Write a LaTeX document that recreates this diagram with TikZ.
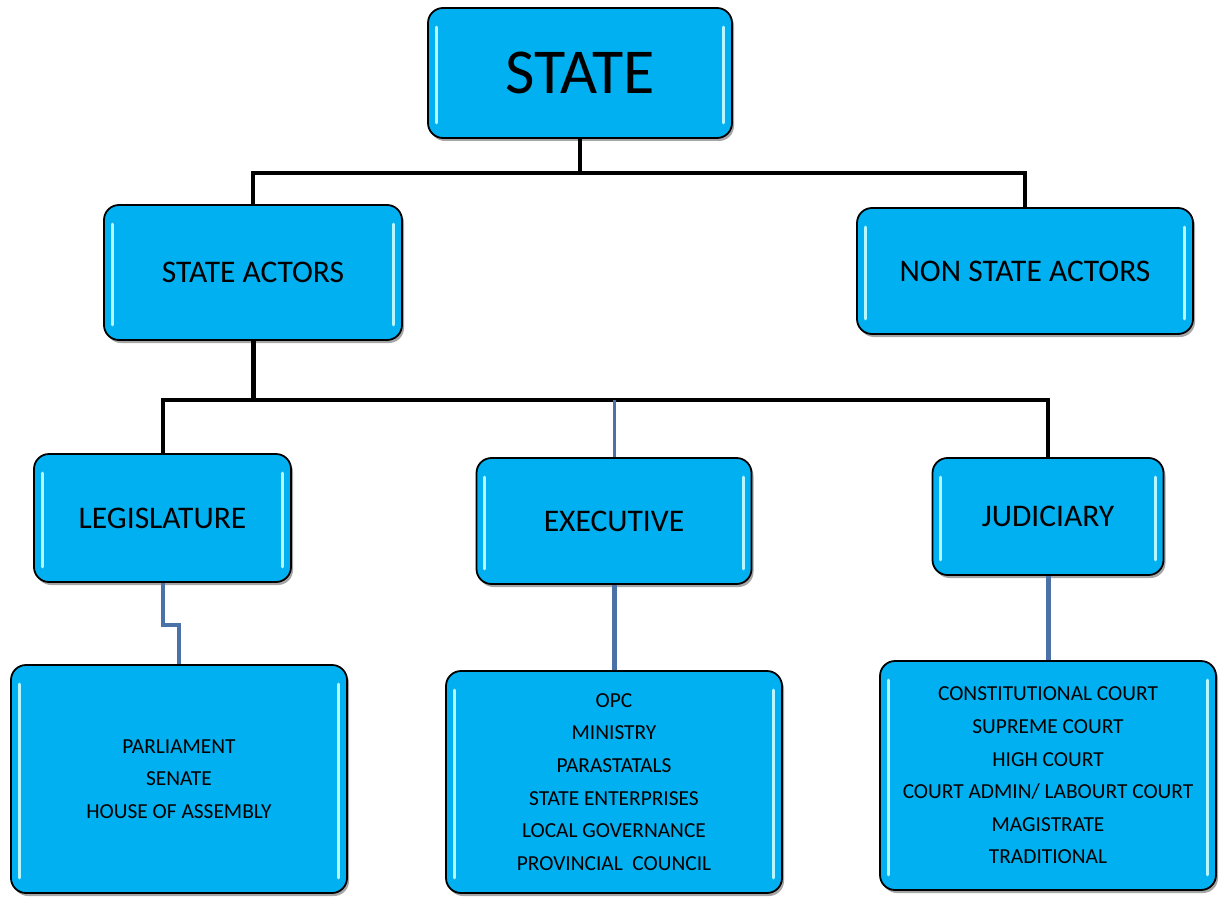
\documentclass[tikz,border=0pt]{standalone}
\usepackage{fontspec}
\setmainfont{Carlito}
\usetikzlibrary{shadows}
\definecolor{boxfill}{HTML}{00B0F0}
\definecolor{boxglint}{HTML}{B8F6FF}
\definecolor{linkblue}{HTML}{4A72A8}
\tikzset{
  box/.style={draw=black, line width=1.8pt, rounded corners=15pt, fill=boxfill,
    align=center, inner sep=0pt,
    drop shadow={shadow xshift=2pt, shadow yshift=-3pt, opacity=0.35, fill=black}},
  head/.style={box, font=\fontsize{31.5}{36}\selectfont},
  list/.style={box, font=\fontsize{21.4}{32.6}\selectfont},
  glint/.style={draw=boxglint, line width=3pt, line cap=round},
  blk/.style={draw=black, line width=4pt},
  blu/.style={draw=linkblue, line width=4pt},
}
\newcommand{\glints}[1]{%
  \draw[glint] ([xshift=9pt,yshift=-20pt]#1.north west) -- ([xshift=9pt,yshift=16pt]#1.south west);
  \draw[glint] ([xshift=-9pt,yshift=-20pt]#1.north east) -- ([xshift=-9pt,yshift=16pt]#1.south east);
}
\begin{document}
\begin{tikzpicture}[x=1pt, y=-1pt]
\useasboundingbox (0,0) rectangle (1222,896);

% top level
\node[box, minimum width=304pt, minimum height=130pt, font=\fontsize{64}{72}\selectfont] (state) at (580,73) {STATE};

% second level
\node[head, minimum width=298pt, minimum height=135pt] (sa) at (253,272.5) {STATE ACTORS};
\node[head, minimum width=336pt, minimum height=126pt] (nsa) at (1025,271) {NON STATE ACTORS};

% branches of government
\node[head, minimum width=257pt, minimum height=128pt] (leg) at (162.5,518) {LEGISLATURE};
\node[head, minimum width=275pt, minimum height=126pt] (exe) at (614,521) {EXECUTIVE};
\node[head, minimum width=231pt, minimum height=117pt] (jud) at (1048,516.5) {JUDICIARY};

% member lists
\node[list, minimum width=336pt, minimum height=228pt] (leglist) at (179,779)
  {PARLIAMENT\\SENATE\\HOUSE OF ASSEMBLY};
\node[list, minimum width=336pt, minimum height=222pt] (exelist) at (614,782)
  {OPC\\MINISTRY\\PARASTATALS\\STATE ENTERPRISES\\LOCAL GOVERNANCE\\PROVINCIAL\ \ COUNCIL};
\node[list, minimum width=336pt, minimum height=229pt] (judlist) at (1048,775.5)
  {CONSTITUTIONAL COURT\\SUPREME COURT\\HIGH COURT\\COURT ADMIN/ LABOURT COURT\\MAGISTRATE\\TRADITIONAL};

\foreach \n in {state,sa,nsa,leg,exe,jud,leglist,exelist,judlist} {\glints{\n}}

% connectors
\coordinate (j1) at (580,173);
\coordinate (j2) at (253,400);
\coordinate (m1) at (170,625);

\draw[blk] (state.south) -- (j1);
\draw[blk] (sa.north) |- (j1) -| (nsa.north);

\draw[blk, line width=5pt] (sa.south) -- (j2);
\draw[blk] (leg.north) |- (j2) -| (jud.north);
\draw[blu, line width=3pt] (exe.north) -- (exe.north |- j2);

\draw[blu] (leg.south) |- (m1) -| (leglist.north);
\draw[blu, line width=5pt] (exe.south) -- (exelist.north);
\draw[blu, line width=5pt] (jud.south) -- (judlist.north);
\end{tikzpicture}
\end{document}
